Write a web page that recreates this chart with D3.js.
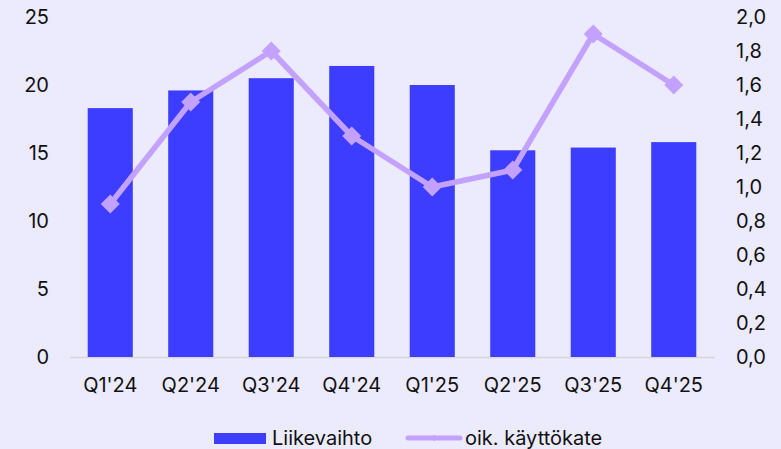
<!DOCTYPE html>
<html><head><meta charset="utf-8">
<script src="https://cdn.jsdelivr.net/npm/d3@7"></script>
<style>
html,body{margin:0;padding:0;background:#ECEAFD;}
svg{display:block;font-family:"Inter","Liberation Sans",Arial,sans-serif;}
</style></head>
<body>
<svg id="c" width="781" height="449"></svg>
<script>
const categories = ["Q1'24","Q2'24","Q3'24","Q4'24","Q1'25","Q2'25","Q3'25","Q4'25"];
const liikevaihto = [18.3,19.6,20.5,21.4,20.0,15.2,15.4,15.8];
const kayttokate = [0.9,1.5,1.8,1.3,1.0,1.1,1.9,1.6];
const leftTicks = [0,5,10,15,20,25];
const rightTicks = [0,0.2,0.4,0.6,0.8,1.0,1.2,1.4,1.6,1.8,2.0];
const seriesNames = ["Liikevaihto","oik. käyttökate"];

const barColor = "#3D3DFF", lineColor = "#C3A2FF", textColor = "#111";
const fs = 20;
const svg = d3.select("#c");
const x = d3.scaleBand().domain(categories).range([70,714]).paddingInner(0.44).paddingOuter(0.22);
const yL = d3.scaleLinear().domain([0,25]).range([357,17]);
const yR = d3.scaleLinear().domain([0,2]).range([357,17]);

// baseline
svg.append("line").attr("x1",70).attr("x2",715).attr("y1",yL(0)+0.5).attr("y2",yL(0)+0.5)
  .attr("stroke","#D6D6DC").attr("stroke-width",1.5);

// bars
svg.append("g").selectAll("rect").data(liikevaihto).join("rect")
  .attr("x",(d,i)=>x(categories[i])).attr("width",x.bandwidth())
  .attr("y",d=>yL(d)).attr("height",d=>yL(0)-yL(d)).attr("fill",barColor);

// line
const pts = kayttokate.map((d,i)=>[x(categories[i])+x.bandwidth()/2, yR(d)]);
svg.append("path").attr("d",d3.line()(pts)).attr("fill","none")
  .attr("stroke",lineColor).attr("stroke-width",5.5).attr("stroke-linejoin","round");
svg.append("g").selectAll("path").data(pts).join("path")
  .attr("d",d3.symbol(d3.symbolSquare,180)())
  .attr("transform",d=>`translate(${d[0]},${d[1]}) rotate(45)`)
  .attr("fill",lineColor);

// axes labels
const fmtR = d3.format(".1f");
svg.append("g").selectAll("text").data(leftTicks).join("text")
  .attr("x",49).attr("y",d=>yL(d)).attr("dy","0.35em").attr("text-anchor","end")
  .attr("font-size",fs).attr("fill",textColor).text(d=>d);
svg.append("g").selectAll("text").data(rightTicks).join("text")
  .attr("x",736).attr("y",d=>yR(d)).attr("dy","0.35em").attr("text-anchor","start")
  .attr("font-size",fs).attr("fill",textColor).text(d=>fmtR(d).replace(".",","));
svg.append("g").selectAll("text").data(categories).join("text")
  .attr("x",d=>x(d)+x.bandwidth()/2).attr("y",385).attr("dy","0.35em").attr("text-anchor","middle")
  .attr("font-size",fs).attr("fill",textColor).text(d=>d);

// legend
const lg = svg.append("g");
lg.append("rect").attr("x",214).attr("y",433).attr("width",52).attr("height",11).attr("fill",barColor);
lg.append("text").attr("x",272).attr("y",438).attr("dy","0.35em").attr("font-size",fs).attr("fill",textColor).text(seriesNames[0]);
lg.append("line").attr("x1",408).attr("x2",460).attr("y1",438).attr("y2",438)
  .attr("stroke",lineColor).attr("stroke-width",5).attr("stroke-linecap","round");
lg.append("path").attr("d",d3.symbol(d3.symbolSquare,20)()).attr("transform","translate(434,438) rotate(45)").attr("fill",lineColor);
lg.append("text").attr("x",465).attr("y",438).attr("dy","0.35em").attr("font-size",fs).attr("fill",textColor).text(seriesNames[1]);
</script>
</body></html>
